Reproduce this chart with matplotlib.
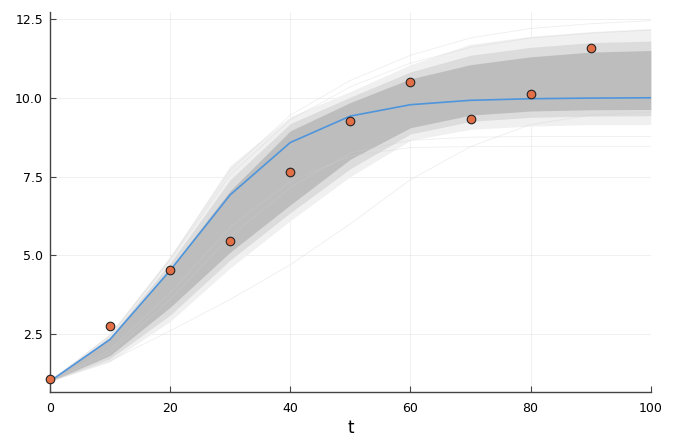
import numpy as np
import matplotlib.pyplot as plt

# time grid of the solution
t = [0, 10, 20, 30, 40, 50, 60, 70, 80, 90, 100]

# "true" solution (blue line)
truth = [1.0, 2.33, 4.52, 6.92, 8.58, 9.42, 9.78, 9.92, 9.97, 9.99, 10.0]

# noisy observations
t_obs = [0, 10, 20, 30, 40, 50, 60, 70, 80, 90]
u_obs = [1.07, 2.75, 4.52, 5.44, 7.63, 9.27, 10.51, 9.33, 10.13, 11.59]

# envelope of the posterior sample trajectories
outer_hi = [1.0, 2.50, 4.95, 7.85, 9.40, 10.20, 11.05, 11.70, 11.95, 12.10, 12.20]
mid_hi = [1.0, 2.42, 4.75, 7.40, 9.18, 10.02, 10.82, 11.35, 11.60, 11.75, 11.80]
core_hi = [1.0, 2.36, 4.58, 7.05, 8.95, 9.85, 10.60, 11.05, 11.30, 11.45, 11.50]
core_lo = [1.0, 1.82, 3.35, 5.10, 6.60, 8.05, 9.05, 9.45, 9.58, 9.62, 9.63]
mid_lo = [1.0, 1.72, 3.10, 4.85, 6.35, 7.75, 8.85, 9.25, 9.38, 9.42, 9.43]
outer_lo = [1.0, 1.62, 2.90, 4.60, 6.10, 7.50, 8.65, 9.00, 9.10, 9.15, 9.15]

# a few individual stray samples
stray = [
    [1.0, 2.47, 4.90, 7.70, 9.45, 10.55, 11.35, 11.90, 12.20, 12.35, 12.45],
    [1.0, 2.44, 4.85, 7.55, 9.30, 10.35, 11.10, 11.60, 11.90, 12.05, 12.15],
    [1.0, 2.00, 3.80, 5.90, 7.35, 8.15, 8.42, 8.45, 8.46, 8.46, 8.46],
    [1.0, 1.90, 3.60, 5.60, 7.15, 8.25, 8.65, 8.75, 8.77, 8.77, 8.77],
    [1.0, 1.65, 2.60, 3.60, 4.70, 6.00, 7.40, 8.45, 9.15, 9.45, 9.55],
]

fig = plt.figure(figsize=(6.8, 4.48), dpi=100)
ax = fig.add_axes([0.0735, 0.125, 0.8835, 0.848])

ax.fill_between(t, outer_lo, outer_hi, color="#f0f0f0", lw=0)
ax.fill_between(t, mid_lo, mid_hi, color="#dcdcdc", lw=0)
ax.fill_between(t, core_lo, core_hi, color="#bdbdbd", lw=0)
for s in stray:
    ax.plot(t, s, color="#d0d0d0", lw=0.6, alpha=0.35)

ax.plot(t, truth, color="#4f95dc", lw=1.2, zorder=3)
ax.scatter(t_obs, u_obs, s=38, color="#e26f46", edgecolor="#222222",
           linewidth=0.8, zorder=4, clip_on=False)

ax.set_xlim(0, 100)
ax.set_ylim(0.66, 12.72)
ax.set_xticks([0, 20, 40, 60, 80, 100])
ax.set_yticks([2.5, 5.0, 7.5, 10.0, 12.5])
ax.set_yticklabels(["2.5", "5.0", "7.5", "10.0", "12.5"])
ax.set_xlabel("t", fontsize=12, labelpad=3)

ax.grid(True, color="black", alpha=0.07, lw=0.6)
ax.set_axisbelow(True)
for side in ["top", "right"]:
    ax.spines[side].set_visible(False)
for side in ["left", "bottom"]:
    ax.spines[side].set_color("#444444")
    ax.spines[side].set_linewidth(1.0)
ax.tick_params(direction="in", length=4, width=0.8, color="#444444",
               labelsize=9)
ax.tick_params(axis="x", pad=7)
ax.tick_params(axis="y", pad=5)

plt.savefig("out.png", dpi=100)
